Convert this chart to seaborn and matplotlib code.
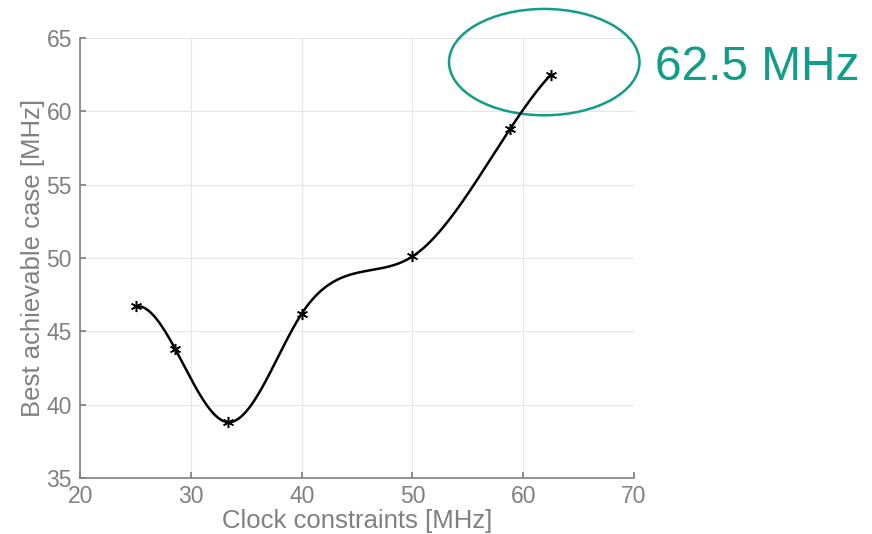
import numpy as np
import pandas as pd
import matplotlib
matplotlib.use("Agg")
import matplotlib.pyplot as plt
import seaborn as sns
from matplotlib.patches import Ellipse

# measured points (clock constraint -> best achievable frequency)
clock_mhz = [25.0, 28.57, 33.33, 40.0, 50.0, 58.82, 62.5]
best_mhz = [46.7, 43.8, 38.8, 46.2, 50.1, 58.8, 62.5]
x_ticks = [20, 30, 40, 50, 60, 70]
y_ticks = [35, 40, 45, 50, 55, 60, 65]
note = "62.5 MHz"


def spline_curve(x, y, n=300):
    # not-a-knot cubic spline, same as the smooth line of the original plot
    x = np.asarray(x, float)
    y = np.asarray(y, float)
    m = len(x)
    h = np.diff(x)
    A = np.zeros((m, m))
    b = np.zeros(m)
    A[0, 0], A[0, 1], A[0, 2] = h[1], -(h[0] + h[1]), h[0]
    A[-1, -3], A[-1, -2], A[-1, -1] = h[-1], -(h[-2] + h[-1]), h[-2]
    for i in range(1, m - 1):
        A[i, i - 1] = h[i - 1]
        A[i, i] = 2 * (h[i - 1] + h[i])
        A[i, i + 1] = h[i]
        b[i] = 6 * ((y[i + 1] - y[i]) / h[i] - (y[i] - y[i - 1]) / h[i - 1])
    M = np.linalg.solve(A, b)
    xs = np.linspace(x[0], x[-1], n)
    idx = np.clip(np.searchsorted(x, xs) - 1, 0, m - 2)
    x0, x1 = x[idx], x[idx + 1]
    hh = x1 - x0
    ys = (M[idx] * (x1 - xs) ** 3 / (6 * hh) + M[idx + 1] * (xs - x0) ** 3 / (6 * hh)
          + (y[idx] / hh - M[idx] * hh / 6) * (x1 - xs)
          + (y[idx + 1] / hh - M[idx + 1] * hh / 6) * (xs - x0))
    return xs, ys


sns.set_theme(style="whitegrid")
plt.rcParams['font.family'] = ['Liberation Sans', 'DejaVu Sans']

grey = '#808080'
teal = '#129C8A'

fig = plt.figure(figsize=(8.72, 5.34), dpi=100)
ax = fig.add_axes([0.092, 0.105, 0.635, 0.824])

xs, ys = spline_curve(clock_mhz, best_mhz)
curve = pd.DataFrame({'x': xs, 'y': ys})
pts = pd.DataFrame({'x': clock_mhz, 'y': best_mhz})
sns.lineplot(data=curve, x='x', y='y', ax=ax, color='black', linewidth=1.8)
ax.plot(pts['x'], pts['y'], linestyle='none', marker=(6, 2, 0), markersize=8,
        color='black', markeredgewidth=1.1)

ax.set_xlim(20, 70)
ax.set_ylim(35, 65)
ax.set_xticks(x_ticks)
ax.set_yticks(y_ticks)
ax.grid(True, color='#e6e6e6', linewidth=0.8)
ax.set_facecolor('white')
for side in ['top', 'right']:
    ax.spines[side].set_visible(False)
for side in ['left', 'bottom']:
    ax.spines[side].set_color(grey)
    ax.spines[side].set_linewidth(1.2)
ax.tick_params(axis='both', direction='in', length=4, color=grey, labelcolor=grey,
               labelsize=16.5, left=True, bottom=True)
ax.tick_params(axis='x', pad=5)
ax.tick_params(axis='y', pad=6)
ax.set_xlabel('Clock constraints [MHz]', color=grey, fontsize=18.5, labelpad=1)
ax.set_ylabel('Best achievable case [MHz]', color=grey, fontsize=18.5, labelpad=1)

ell = Ellipse((61.9, 63.35), width=17.2, height=7.25, fill=False, edgecolor=teal,
              linewidth=1.8, clip_on=False)
ax.add_patch(ell)
fig.text(0.751, 0.873, note, color=teal, fontsize=34.5, va='center', ha='left')

plt.savefig('out.png', dpi=100)
